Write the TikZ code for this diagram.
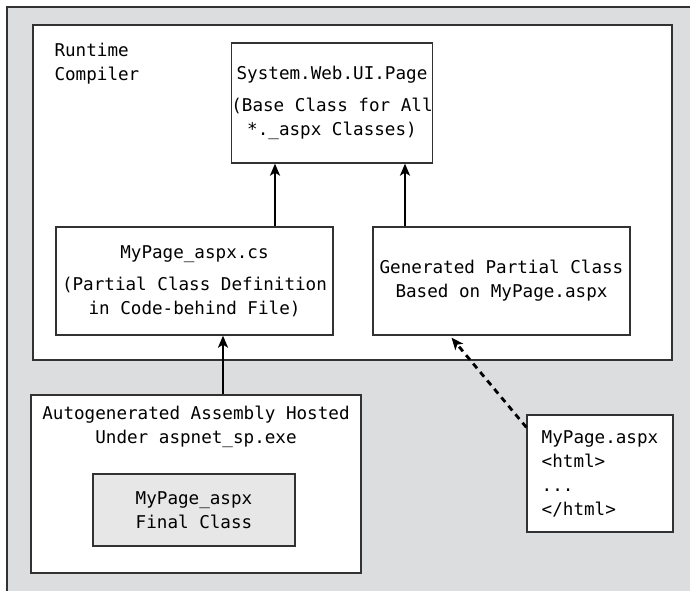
\documentclass[tikz,border=0pt]{standalone}
\usepackage{fontspec}
\setmonofont{DejaVu Sans Mono}
\usetikzlibrary{arrows.meta,positioning}
\definecolor{bggray}{RGB}{220,221,223}
\definecolor{boxgray}{RGB}{231,231,232}
\definecolor{edge}{RGB}{50,50,50}
\tikzset{
  box/.style={draw=edge,fill=white,line width=1.3pt,inner sep=0pt},
  txt/.style={font=\ttfamily\fontsize{17.6}{24}\selectfont,align=center},
  arr/.style={-{Stealth[length=12pt,width=10pt,inset=3pt]},line width=2.8pt}
}
\begin{document}
\begin{tikzpicture}[x=1pt,y=-1pt]
\useasboundingbox (0,0) rectangle (690,591);
\fill[bggray] (7,7) rectangle (700,600);
\draw[edge,line width=1.3pt] (7,600) -- (7,7) -- (700,7);
\draw[box] (33,25) rectangle (672,360);
\node[txt,align=left,anchor=north west] (rtc) at (51,40) {Runtime\\Compiler};
\node[box,txt,minimum width=200pt,minimum height=120pt] (page) at (332,103)
  {System.Web.UI.Page\\[8pt](Base Class for All\\*.\_aspx Classes)};
\node[box,txt,minimum width=277pt,minimum height=108pt] (cs) at (194.5,281)
  {MyPage\_aspx.cs\\[8pt](Partial Class Definition\\in Code-behind File)};
\node[box,txt,minimum width=257pt,minimum height=108pt] (gen) at (501.5,281)
  {Generated Partial Class\\Based on MyPage.aspx};
\node[box,minimum width=330pt,minimum height=178pt] (asm) at (196,484) {};
\node[txt,below=8pt of asm.north] (asmtxt) {Autogenerated Assembly Hosted\\Under aspnet\_sp.exe};
\node[box,txt,fill=boxgray,minimum width=202pt,minimum height=72pt] (final) at (194,510)
  {MyPage\_aspx\\Final Class};
\node[box,txt,align=left,minimum width=146pt,minimum height=117pt] (file) at (600,473.5)
  {MyPage.aspx\\<html>\\...\\</html>};
\coordinate (a1) at (275,0);
\coordinate (a2) at (405,0);
\coordinate (a3) at (223,0);
\draw[arr] (a1 |- cs.north) -- (a1 |- page.south);
\draw[arr] (a2 |- gen.north) -- (a2 |- page.south);
\draw[arr] (a3 |- asm.north) -- (a3 |- cs.south);
\draw[arr,dash pattern=on 6pt off 5pt] ([yshift=-13pt]file.north west) -- ([xshift=-50pt,yshift=-2pt]gen.south);
\end{tikzpicture}
\end{document}
